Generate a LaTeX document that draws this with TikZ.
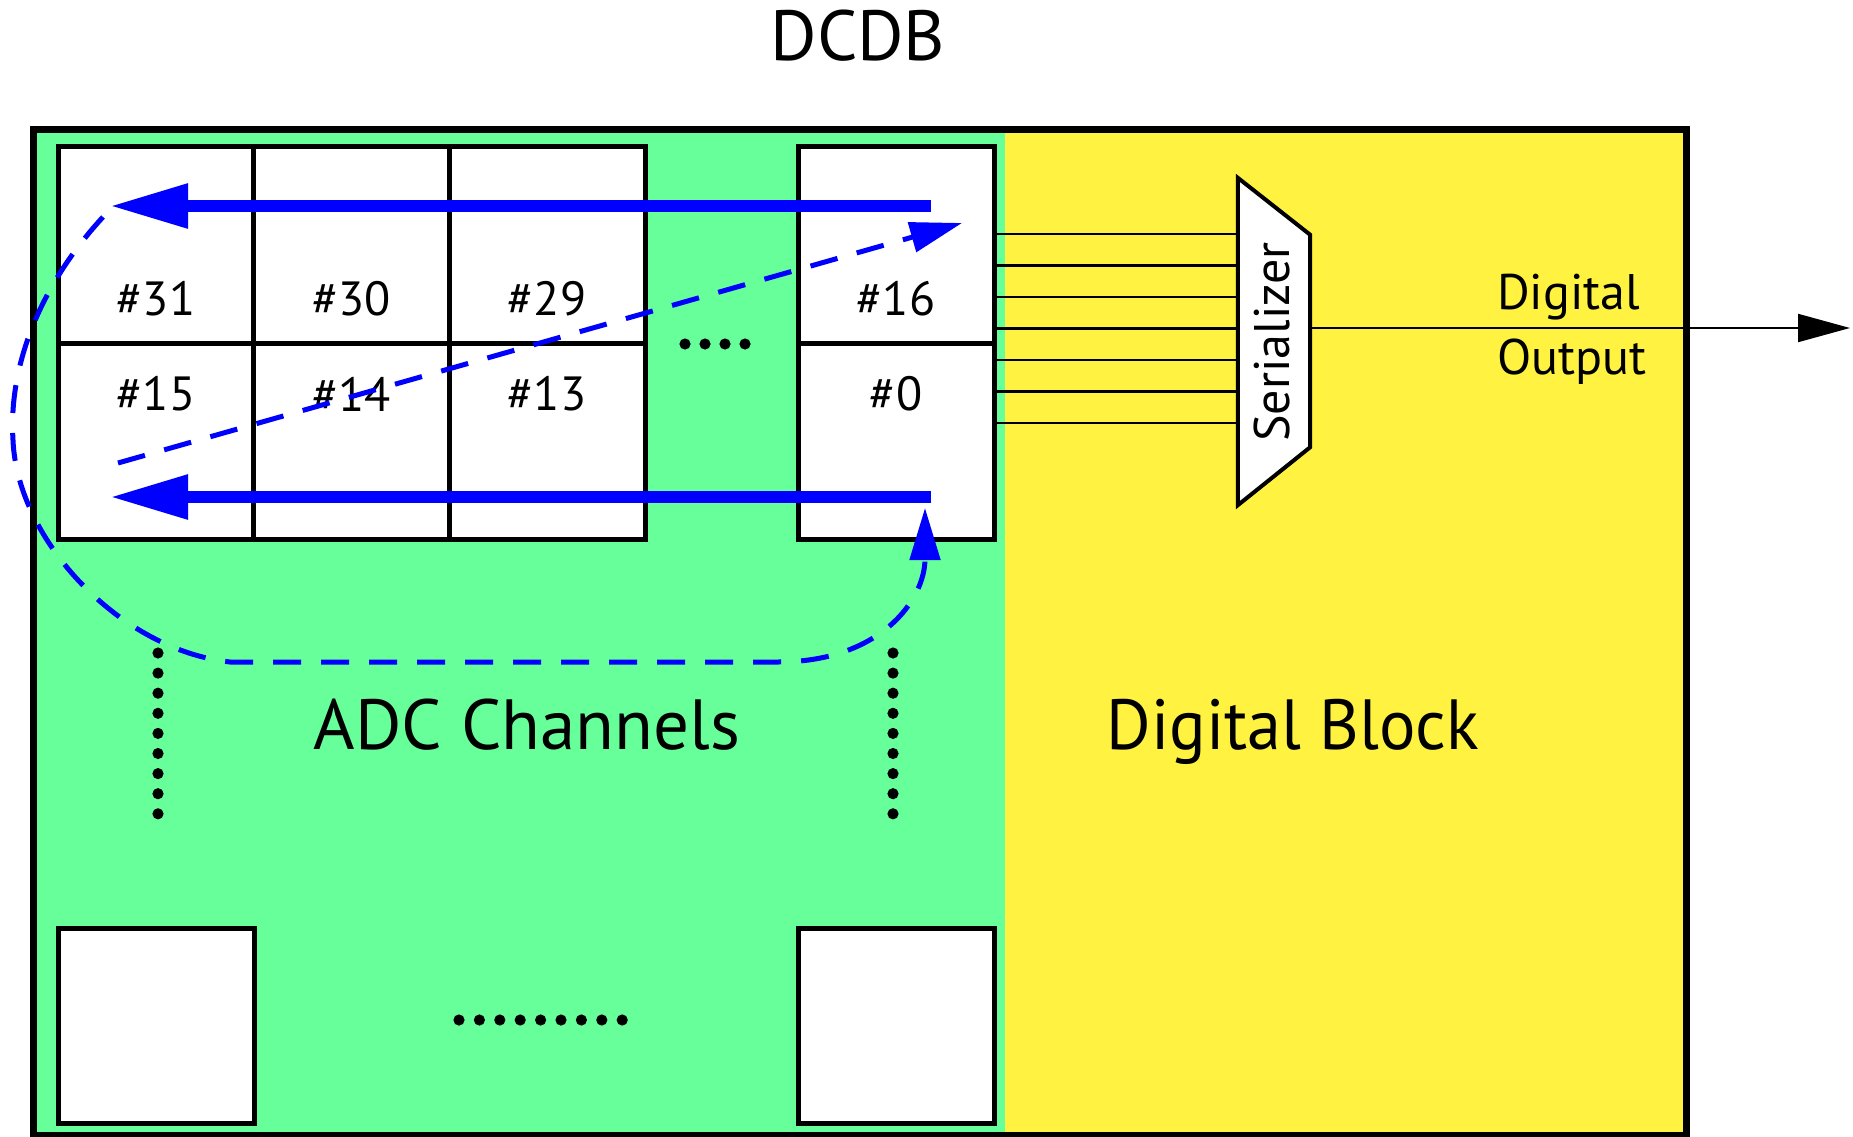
\documentclass[tikz,border=0pt]{standalone}
\usepackage{fontspec}
\setmainfont{PT Sans}
\usetikzlibrary{arrows.meta}
\definecolor{chgreen}{RGB}{102,255,153}
\definecolor{digyellow}{RGB}{255,242,64}
\definecolor{arrblue}{RGB}{0,0,255}
\begin{document}
\begin{tikzpicture}[x=1pt,y=-1pt,
  cellbox/.style={draw=black, fill=white, line width=5pt, minimum width=196pt, minimum height=196pt, inner sep=0pt, outer sep=0pt},
  celltxt/.style={font=\fontsize{48}{50}\selectfont, inner sep=0pt},
  bigtxt/.style={font=\fontsize{71}{80}\selectfont, inner sep=0pt, anchor=base},
  midtxt/.style={font=\fontsize{50}{56}\selectfont, inner sep=0pt},
  wire/.style={draw=black, line width=2.5pt},
  flow/.style={draw=arrblue, line width=12pt, -{Triangle[length=78pt,width=42pt]}},
  loopline/.style={draw=arrblue, line width=5pt, dash pattern=on 28pt off 20pt, -{Triangle[length=52pt,width=30pt]}}
]
\useasboundingbox (0,0) rectangle (1853,1137);
% regions
\fill[chgreen] (33.5,130) rectangle (1005,1135);
\fill[digyellow] (1005,130) rectangle (1686,1135);
\node[draw=black, line width=7pt, minimum width=1652.5pt, minimum height=1005pt, inner sep=0pt] (dcdb) at (859.75,632.5) {};

% title and region labels
\node[font=\fontsize{71}{80}\selectfont, inner sep=0pt, anchor=base] (title) at (858,61) {DCDB};
\node[bigtxt] (adclab) at (527,749) {ADC Channels};
\node[bigtxt, xscale=0.96] (diglab) at (1293,749) {Digital Block};

% cells
\node[cellbox] (c31) at (156,245) {};
\node[cellbox] (c30) at (351.5,245) {};
\node[cellbox] (c29) at (547,245) {};
\node[cellbox] (c16) at (896,245) {};
\node[cellbox] (c15) at (156,441) {};
\node[cellbox] (c14) at (351.5,441) {};
\node[cellbox] (c13) at (547,441) {};
\node[cellbox] (c0) at (896,441) {};
\node[cellbox, minimum height=195pt] (b1) at (156,1025.5) {};
\node[cellbox, minimum height=195pt] (b2) at (896,1025.5) {};

\node[celltxt] (t31) at (156,299) {\#31};
\node[celltxt] (t30) at (351.5,299) {\#30};
\node[celltxt] (t29) at (547,299) {\#29};
\node[celltxt] (t16) at (896,299) {\#16};
\node[celltxt] (t15) at (156,394) {\#15};
\node[celltxt] (t14) at (351.5,394) {\#14};
\node[celltxt] (t13) at (547,394) {\#13};
\node[celltxt] (t0) at (896,394) {\#0};

% dots
\foreach \k in {0,...,3} \fill (685+20*\k,344) circle (5.6pt);
\foreach \k in {0,...,8} {
  \fill (158,653+20.1*\k) circle (5.6pt);
  \fill (893,653+20.1*\k) circle (5.6pt);
  \fill (459+20.4*\k,1020) circle (5.6pt);
}

% serializer
\node[minimum width=72pt, minimum height=327pt, inner sep=0pt] (ser) at (1274,341.5) {};
\draw[fill=white, line width=4pt, line join=miter] (ser.north west) -- ([yshift=-57pt]ser.north east) -- ([yshift=58pt]ser.south east) -- (ser.south west) -- cycle;
\node[midtxt, rotate=90] (sertxt) at (1272,342) {Serializer};

\foreach \y in {234,265.5,297,328.5} \draw[wire] (c16.east |- 0,\y) -- (ser.west |- 0,\y);
\foreach \y in {360,391.5,423} \draw[wire] (c0.east |- 0,\y) -- (ser.west |- 0,\y);

\coordinate (outend) at (1850,328);
\draw[wire, line width=2pt, -{Triangle[length=52pt,width=28pt]}] (ser.east |- outend) -- (outend);
\node[midtxt, anchor=base west] (dig) at (1497,309) {Digital};
\node[midtxt, anchor=base west] (outp) at (1497,374) {Output};

% blue flow arrows
\coordinate (a1s) at (931,206);
\coordinate (a1e) at (110,206);
\coordinate (a2s) at (931,497);
\coordinate (a2e) at (110,497);
\draw[flow] (a1s) -- (a1e);
\draw[flow] (a2s) -- (a2e);

\coordinate (d1s) at (118,463);
\coordinate (d1e) at (962,223);
\draw[loopline] (d1s) -- (d1e);

\coordinate (ls) at (103,217);
\coordinate (lm1) at (13,440);
\coordinate (lm2) at (230,662);
\coordinate (lm3) at (778,662);
\coordinate (le) at (925,508);
\draw[loopline] (ls) .. controls (45,280) and (8,360) .. (lm1)
  .. controls (17,540) and (120,650) .. (lm2) -- (lm3)
  .. controls (880,662) and (925,600) .. (le);
\end{tikzpicture}
\end{document}
